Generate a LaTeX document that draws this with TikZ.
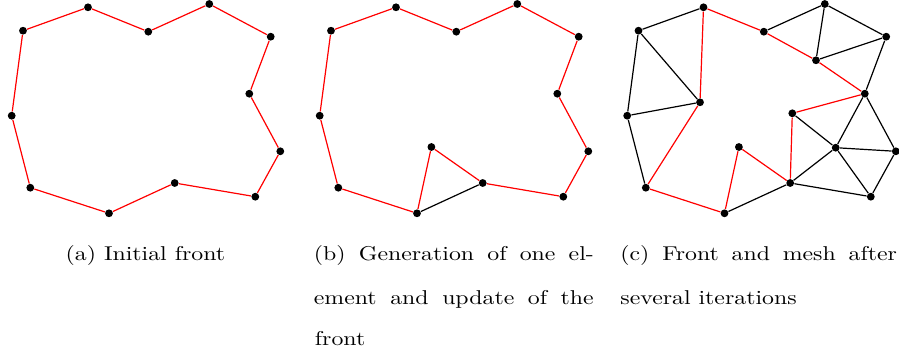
\documentclass[tikz,border=0pt]{standalone}
\usepackage{graphicx}
\tikzset{
  dot/.style={circle, fill=black, inner sep=0pt, minimum size=3.9pt},
  front/.style={draw=red, line width=0.6pt},
  mesh/.style={draw=black, line width=0.6pt},
  captext/.style={inner sep=0pt, font=\fontsize{10}{12}\selectfont},
}
\newcommand\placepts[2]{%
  \foreach \n/\px/\py in {1/23/30.7, 2/88/7.3, 3/148.3/31.7, 4/209.3/4,
      5/270.7/36.7, 6/249.3/93.7, 7/280.3/151.3, 8/255.3/196.7,
      9/174.7/183, 10/109/213.3, 11/30.3/187.7, 12/11.7/115.7}
    {\node[dot] (#1\n) at (\px+#2,\py) {};}%
}
\begin{document}
\begin{tikzpicture}[x=0.5pt, y=-0.5pt]
\useasboundingbox (0,0) rectangle (899,358);

% ---------- (a) initial front ----------
\placepts{a}{0}
\foreach \i/\j in {1/2,2/3,3/4,4/5,5/6,6/7,7/8,8/9,9/10,10/11,11/12,12/1}
  \draw[front] (a\i) -- (a\j);

% ---------- (b) one element generated ----------
\placepts{b}{308}
\node[dot] (b13) at (123.4+308,147) {};
\foreach \i/\j in {1/2,2/3,3/4,4/5,5/6,6/7,7/8,8/9,10/11,11/12,12/1,10/13,13/9}
  \draw[front] (b\i) -- (b\j);
\draw[mesh] (b9) -- (b10);

% ---------- (c) after several iterations ----------
\placepts{c}{615.5}
\node[dot] (c13) at (123.4+615.5,147) {};
\node[dot] (c14) at (84.5+615.5,102.3) {};
\node[dot] (c15) at (200.5+615.5,60.3) {};
\node[dot] (c16) at (176.8+615.5,113.3) {};
\node[dot] (c17) at (220.2+615.5,147.7) {};
\foreach \i/\j in {1/2,1/12,1/14,12/14,12/11,4/3,4/15,4/5,5/15,5/6,6/17,6/7,
    16/17,17/7,17/8,17/9,7/8,9/8,9/10}
  \draw[mesh] (c\i) -- (c\j);
\foreach \i/\j in {2/14,14/11,11/10,10/13,13/9,9/16,16/6,6/15,15/3,3/2}
  \draw[front] (c\i) -- (c\j);

% ---------- captions ----------
\node[captext, anchor=base] (capa) at (145.4,260.5)
  {\scalebox{1.19}[1]{(a) Initial front}};
\node[captext, anchor=base west] (capb1) at (313.5,260.5)
  {\scalebox{1.19}[1]{\makebox[117.6pt][s]{(b) Generation of one el-}}};
\node[captext, anchor=base west] (capb2) at (313.5,304)
  {\scalebox{1.19}[1]{\makebox[117.6pt][s]{ement and update of the}}};
\node[captext, anchor=base west] (capb3) at (314.5,345.5)
  {\scalebox{1.19}[1]{front}};
\node[captext, anchor=base west] (capc1) at (620,260.5)
  {\scalebox{1.19}[1]{\makebox[116.2pt][s]{(c) Front and mesh after}}};
\node[captext, anchor=base west] (capc2) at (620,304)
  {\scalebox{1.19}[1]{several iterations}};
\end{tikzpicture}
\end{document}
